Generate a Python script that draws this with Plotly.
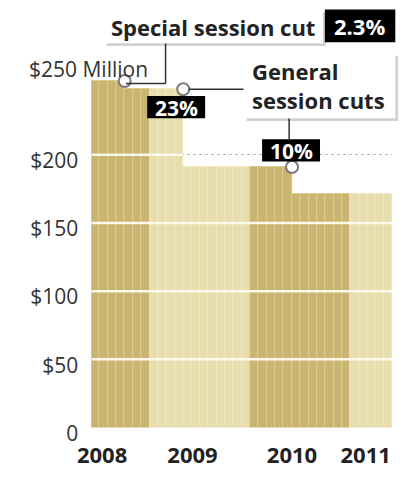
import plotly.graph_objects as go

# ---- data ----
years = ["2008", "2009", "2010", "2011"]
months_per_year = [7, 12, 12, 5]            # monthly columns shown per year
# monthly funding level ($ millions)
funding = ([254] * 4 + [248] * 3 +           # 2008 (special session cut mid-year)
           [248] * 4 + [191] * 8 +           # 2009 (23% general session cut)
           [191] * 5 + [171] * 7 +           # 2010 (10% cut)
           [171] * 5)                        # 2011
year_colors = ["#c9b571", "#e8ddac", "#c9b571", "#e8ddac"]
stripe_colors = ["#dccb8e", "#f1e8c6", "#dccb8e", "#f1e8c6"]
y_ticks = [0, 50, 100, 150, 200]
y_ticktext = ["0", "$50", "$100", "$150", "$200"]
top_label = "$250 Million"
x_tick_pos = [0.8, 11.6, 23.5, 32.3]
cut_labels = ["2.3%", "23%", "10%"]

W, H = 404, 485
def px(x): return x / W
def py(y): return 1 - y / H

# ---- build monthly bars ----
xs = list(range(len(funding)))
colors, lcolors = [], []
for yc, sc, n in zip(year_colors, stripe_colors, months_per_year):
    colors += [yc] * n
    lcolors += [sc] * n

# cut points: where funding changes
cut_x, cut_y = [], []
for i in range(1, len(funding)):
    if funding[i] != funding[i - 1]:
        cut_x.append(i - 0.5)
        cut_y.append(funding[i - 1])

fig = go.Figure()
fig.add_trace(go.Bar(x=xs, y=funding, marker=dict(color=colors,
                     line=dict(color=lcolors, width=1)),
                     width=1, hoverinfo="skip"))
fig.add_trace(go.Scatter(x=cut_x, y=cut_y, mode="markers",
                         marker=dict(size=12, color="white",
                                     line=dict(color="#7a7a7a", width=2)),
                         hoverinfo="skip"))

FONT = "Open Sans"
shapes = []
# light gridlines drawn over the bars only (where the bars reach the tick value)
for v in y_ticks[1:]:
    covered = [i for i, f in enumerate(funding) if f > v]
    if not covered:
        continue
    shapes.append(dict(type="line", xref="x", yref="y",
                       x0=min(covered) - 0.5, x1=max(covered) + 0.5,
                       y0=v, y1=v, line=dict(color="#fcf8ea", width=2.5), layer="above"))

def rect(x0, y0, x1, y1, fill):
    shapes.append(dict(type="rect", xref="paper", yref="paper",
                       x0=px(x0), x1=px(x1), y0=py(y1), y1=py(y0),
                       fillcolor=fill, line=dict(width=0), layer="above"))

def line(x0, y0, x1, y1):
    shapes.append(dict(type="line", xref="paper", yref="paper",
                       x0=px(x0), x1=px(x1), y0=py(y0), y1=py(y1),
                       line=dict(color="#333333", width=1.5), layer="above"))

# leader lines
line(157, 45, 157, 87); line(116, 87, 157, 87)
line(181, 93, 238, 93)
line(285, 123, 285, 145)

# special session box
rect(96, 13, 323, 48, "rgba(0,0,0,0.18)")
rect(93, 10, 320, 45, "white")
rect(322, 10, 395, 44, "black")
# general session box
rect(241, 58, 398, 126, "rgba(0,0,0,0.18)")
rect(238, 55, 395, 123, "white")
# percent boxes
rect(138, 100, 198, 123, "black")
rect(257, 145, 317, 168, "black")

ann = []
def text(t, x, y, size, color, bold=True, xanchor="center", align="center"):
    ann.append(dict(text=f"<b>{t}</b>" if bold else t, x=px(x), y=py(y),
                    xref="paper", yref="paper", xanchor=xanchor, yanchor="middle",
                    align=align, showarrow=False,
                    font=dict(family=FONT, size=size, color=color)))

text("Special session cut", 206, 28, 22, "#222")
text(cut_labels[0], 358, 27, 22, "white")
text("General<br>session cuts", 244, 89, 22, "#222", xanchor="left", align="left")
text(cut_labels[1], 168, 112, 21, "white")
text(cut_labels[2], 287, 157, 21, "white")
text(top_label, 13, 72, 21, "#333", bold=False, xanchor="left")

fig.update_layout(
    width=W, height=H, margin=dict(l=0, r=0, t=0, b=0),
    paper_bgcolor="white", plot_bgcolor="white",
    showlegend=False, bargap=0,
    shapes=shapes, annotations=ann,
    xaxis=dict(domain=[px(80), px(392)], range=[-0.5, len(funding) - 0.5],
               tickvals=x_tick_pos, ticktext=[f"<b>{y}</b>" for y in years],
               tickfont=dict(family=FONT, size=22, color="#222"),
               showgrid=False, zeroline=False, showline=False, ticks="",
               ticklabelstandoff=12, fixedrange=True),
    yaxis=dict(domain=[py(445), 1], range=[0, 445 / 1.42],
               tickvals=y_ticks, ticktext=y_ticktext,
               tickfont=dict(family=FONT, size=21, color="#333"),
               showgrid=True, gridcolor="#b5b5b5", griddash="dot", gridwidth=1,
               zeroline=False, showline=False, ticks="",
               ticklabelstandoff=12, ticklabelshift=6, fixedrange=True),
)

fig.write_html("out.html")
